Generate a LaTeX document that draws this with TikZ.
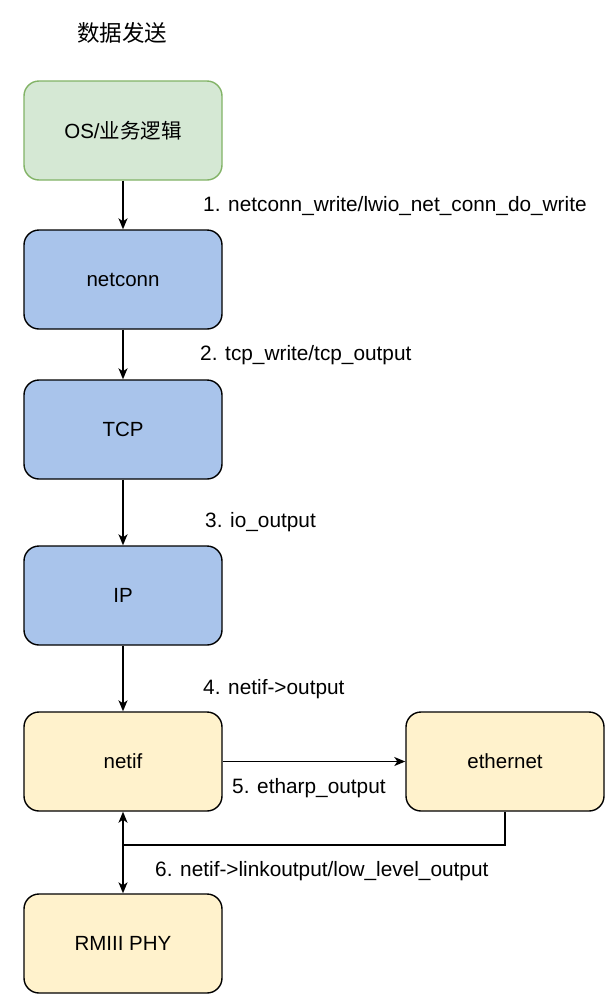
\documentclass[tikz,border=0pt]{standalone}
\usepackage{fontspec}
\setmainfont{Liberation Sans}
\newfontfamily\cjk{Noto Sans CJK SC}
\usetikzlibrary{arrows.meta}
\definecolor{gfill}{HTML}{D5E8D4}
\definecolor{gdraw}{HTML}{82B366}
\definecolor{bfill}{HTML}{A9C4EB}
\definecolor{yfill}{HTML}{FFF2CC}
\begin{document}
\begin{tikzpicture}[x=1pt,y=-1pt,
  box/.style={rectangle,rounded corners=15pt,minimum width=198pt,minimum height=99pt,line width=1.4pt,font=\fontsize{20.5}{24}\selectfont,inner sep=0pt},
  greenbox/.style={box,fill=gfill,draw=gdraw},
  bluebox/.style={box,fill=bfill,draw=black},
  yellowbox/.style={box,fill=yfill,draw=black},
  lbl/.style={anchor=west,font=\fontsize{20.8}{24}\selectfont,inner sep=0pt},
  arr/.style={line width=1.4pt,-{Stealth[length=11pt,width=9pt,inset=3pt]}},
  ln/.style={line width=1.4pt}]
\useasboundingbox[fill=white] (0,0) rectangle (614,999);
\node[anchor=west,font=\cjk\fontsize{22.5}{26}\selectfont,inner sep=0pt] (title) at (77,33) {数据发送};
\node[greenbox] (os) at (123,130.5) {OS/{\cjk 业务逻辑}};
\node[bluebox] (netconn) at (123,279.5) {netconn};
\node[bluebox] (tcp) at (123,429.5) {TCP};
\node[bluebox] (ip) at (123,595.5) {IP};
\node[yellowbox] (netif) at (123,761.5) {netif};
\node[yellowbox] (eth) at (505,761.5) {ethernet};
\node[yellowbox] (phy) at (123,943.5) {RMIII PHY};
\coordinate (j) at (123,845);
\draw[arr] (os) -- (netconn);
\draw[arr] (netconn) -- (tcp);
\draw[arr] (tcp) -- (ip);
\draw[arr] (ip) -- (netif);
\draw[arr] (netif) -- (eth);
\draw[ln] (eth.south) |- (j);
\draw[arr] (j) -- (netif.south);
\draw[arr] (j) -- (phy.north);
\node[lbl] (l1) at (203,206) {1. netconn\_write/lwio\_net\_conn\_do\_write};
\node[lbl] (l2) at (200,355) {2. tcp\_write/tcp\_output};
\node[lbl] (l3) at (205,522) {3. io\_output};
\node[lbl] (l4) at (203,689) {4. netif->output};
\node[lbl] (l5) at (232,788) {5. etharp\_output};
\node[lbl] (l6) at (155,871) {6. netif->linkoutput/low\_level\_output};
\end{tikzpicture}
\end{document}
